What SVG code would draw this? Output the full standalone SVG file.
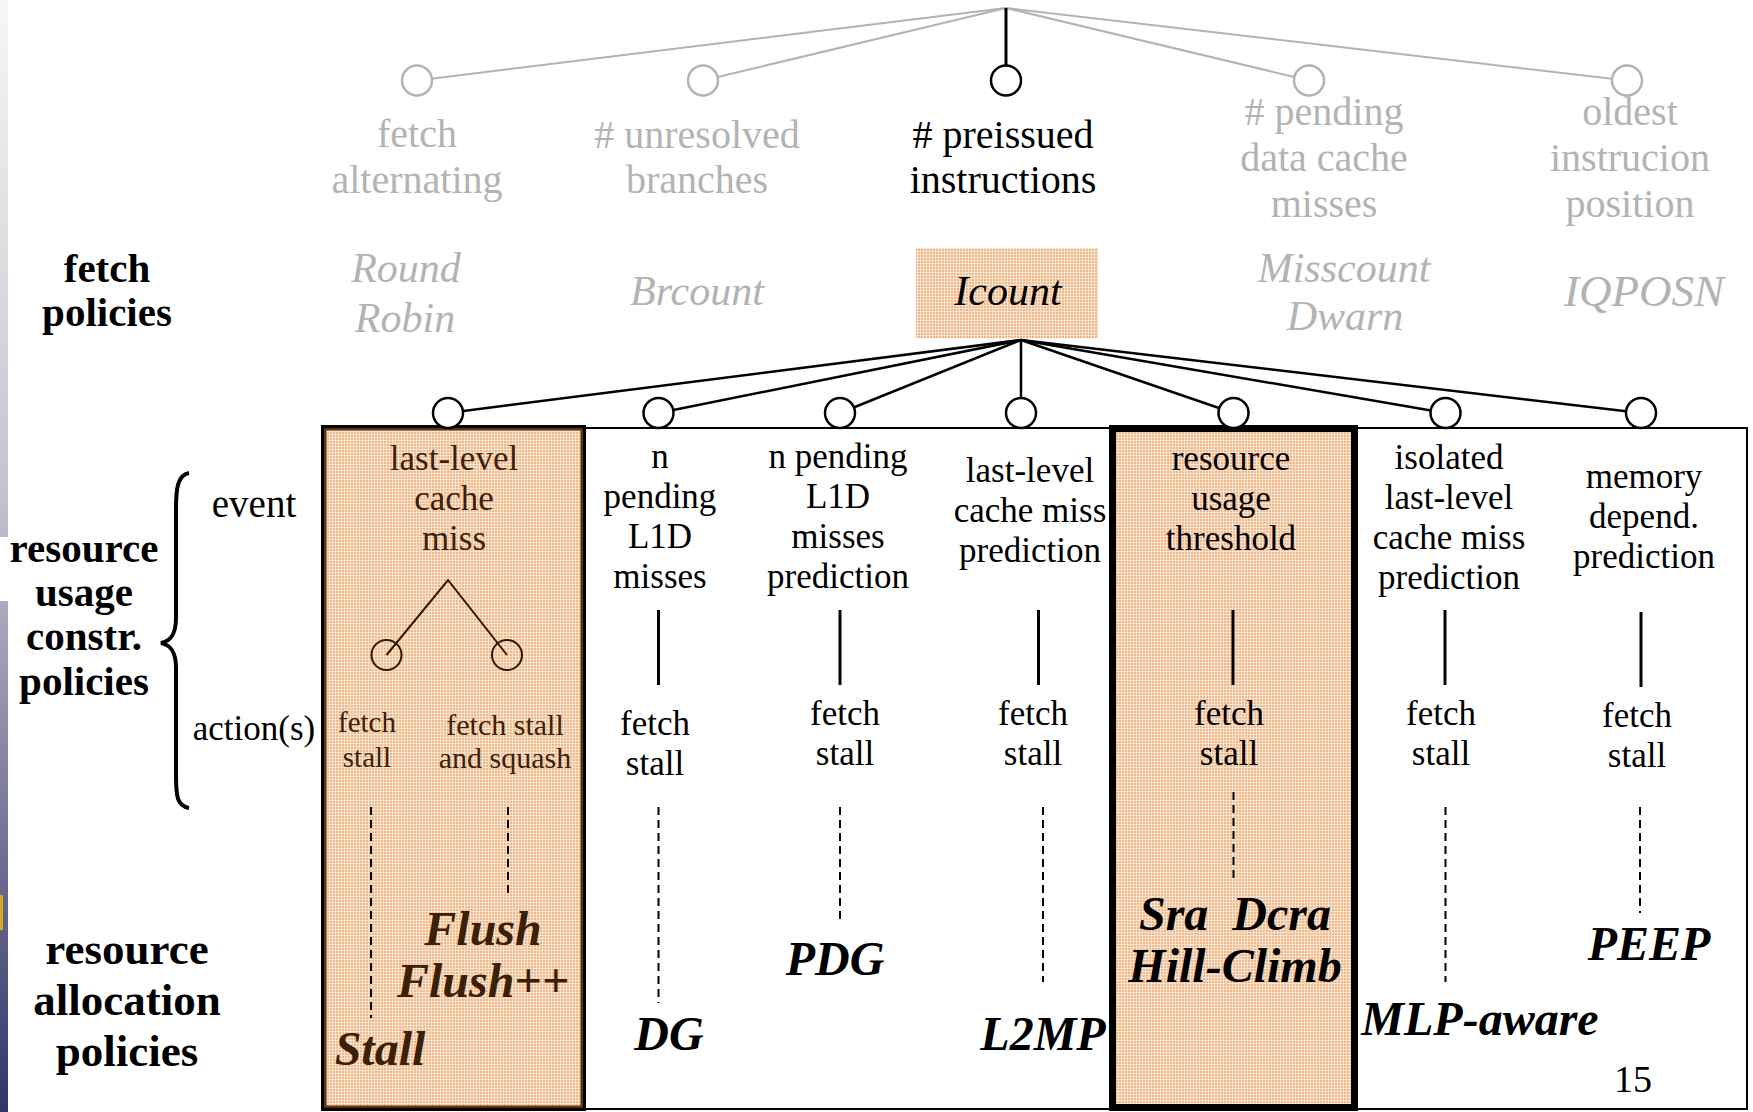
<svg xmlns="http://www.w3.org/2000/svg" width="1753" height="1112" viewBox="0 0 1753 1112">
<defs>
<linearGradient id="strip" x1="0" y1="0" x2="0" y2="1">
<stop offset="0" stop-color="#f7f7f7"/>
<stop offset="0.45" stop-color="#c2c2cc"/>
<stop offset="1" stop-color="#33336a"/>
</linearGradient>
<pattern id="tex" width="3" height="3" patternUnits="userSpaceOnUse">
<rect width="3" height="3" fill="#fbe4ce"/>
<rect width="2" height="2" fill="#f0b78a"/>
</pattern>
</defs>
<style>
text { font-family: "Liberation Serif", "Times New Roman", serif; text-anchor: middle; }
.gray { fill: #b3b3b3; }
.top { font-size: 40px; }
.pol { font-size: 42px; font-style: italic; }
.hdr { font-size: 41px; font-weight: bold; fill: #000; }
.big { font-size: 45px; font-weight: bold; fill: #000; }
.side { font-size: 39px; fill: #000; }
.col { font-size: 35px; fill: #000; }
.brn { fill: #3a220b; }
.alloc { font-size: 48px; font-weight: bold; font-style: italic; fill: #000; }
.gl { stroke: #b3b3b3; stroke-width: 2; fill: none; }
.bl { stroke: #000; stroke-width: 2.5; fill: none; }
.gn { fill: #fff; stroke: #b3b3b3; stroke-width: 2.5; }
.bn { fill: #fff; stroke: #000; stroke-width: 2.5; }
.vl { stroke: #000; stroke-width: 3; }
.dash { stroke: #000; stroke-width: 2; stroke-dasharray: 8 5; fill: none; }
</style>

<rect width="1753" height="1112" fill="#fff"/>
<g id="slide-edge">
<rect x="0" y="0" width="8" height="1112" fill="url(#strip)"/>
<rect x="0" y="537" width="8" height="64" fill="#fff"/>
<rect x="0" y="895" width="3" height="35" fill="#d2a928"/>
</g>

<g id="frame">
<rect x="323" y="428" width="1424" height="681" fill="#fff" stroke="#000" stroke-width="2"/>
</g>
<g id="col1-box">
<rect x="324.5" y="428.5" width="258" height="679" fill="url(#tex)" stroke="#5a3312" stroke-width="4"/>
<rect x="322.5" y="426.5" width="262" height="683" fill="none" stroke="#000" stroke-width="3"/>
</g>
<g id="col5-box">
<rect x="1112.5" y="428.5" width="242" height="679" fill="url(#tex)" stroke="#000" stroke-width="7"/>
</g>
<g id="icount-box">
<rect x="916" y="248" width="182" height="90" fill="url(#tex)"/>
</g>

<g id="connectors">
<line class="gl" x1="1006" y1="8" x2="417" y2="80.5"/>
<line class="gl" x1="1006" y1="8" x2="703" y2="80.5"/>
<line class="gl" x1="1006" y1="8" x2="1309" y2="80.5"/>
<line class="gl" x1="1006" y1="8" x2="1627" y2="80.5"/>
<line x1="1006" y1="8" x2="1006" y2="80.5" stroke="#000" stroke-width="3"/>
<line class="bl" x1="1021" y1="340" x2="448" y2="413"/>
<line class="bl" x1="1021" y1="340" x2="658.5" y2="413"/>
<line class="bl" x1="1021" y1="340" x2="840" y2="413"/>
<line class="bl" x1="1021" y1="340" x2="1021" y2="413"/>
<line class="bl" x1="1021" y1="340" x2="1233.5" y2="413"/>
<line class="bl" x1="1021" y1="340" x2="1445.5" y2="413"/>
<line class="bl" x1="1021" y1="340" x2="1641" y2="413"/>
<polyline points="386.5,655 448,580 507,655" stroke="#2a1706" stroke-width="2" fill="none"/>
<line class="vl" x1="658.5" y1="610" x2="658.5" y2="685"/>
<line class="vl" x1="840" y1="610" x2="840" y2="685"/>
<line class="vl" x1="1038.5" y1="610" x2="1038.5" y2="685"/>
<line class="vl" x1="1233" y1="610" x2="1233" y2="685"/>
<line class="vl" x1="1445" y1="610" x2="1445" y2="685"/>
<line class="vl" x1="1641" y1="612" x2="1641" y2="687"/>
<line class="dash" x1="371" y1="807" x2="371" y2="1018"/>
<line class="dash" x1="508" y1="807" x2="508" y2="897"/>
<line class="dash" x1="658.5" y1="807" x2="658.5" y2="1003"/>
<line class="dash" x1="840" y1="807" x2="840" y2="920"/>
<line class="dash" x1="1043" y1="807" x2="1043" y2="982"/>
<line class="dash" x1="1233.5" y1="792" x2="1233.5" y2="882"/>
<line class="dash" x1="1445.5" y1="807" x2="1445.5" y2="982"/>
<line class="dash" x1="1640" y1="807" x2="1640" y2="913"/>
</g>

<g id="labels-left">
<text class="hdr" x="107" y="282">fetch</text>
<text class="hdr" x="107" y="326">policies</text>
<path d="M189,473 C177,475 176,490 176,510 L176,618 C176,634 171,641 161,643 C171,645 176,652 176,668 L176,775 C176,796 177,806 189,808" fill="none" stroke="#000" stroke-width="4"/>
<text class="hdr" x="84" y="562">resource</text>
<text class="hdr" x="84" y="606">usage</text>
<text class="hdr" x="84" y="650">constr.</text>
<text class="hdr" x="84" y="695">policies</text>
<text class="side" x="254" y="517">event</text>
<text class="side" x="254" y="740" style="font-size:35px">action(s)</text>
<text class="big" x="127" y="964">resource</text>
<text class="big" x="127" y="1015">allocation</text>
<text class="big" x="127" y="1066">policies</text>
</g>

<g id="fp-fetch-alternating">
<circle class="gn" cx="417" cy="80.5" r="15"/>
<text class="top gray" x="417" y="147">fetch</text>
<text class="top gray" x="417" y="193">alternating</text>
<text class="pol gray" x="406" y="282">Round</text>
<text class="pol gray" x="405" y="332">Robin</text>
</g>
<g id="fp-unresolved-branches">
<circle class="gn" cx="703" cy="80.5" r="15"/>
<text class="top gray" x="697" y="148">#  unresolved</text>
<text class="top gray" x="697" y="193">branches</text>
<text class="pol gray" x="697" y="305">Brcount</text>
</g>
<g id="fp-preissued">
<circle class="bn" cx="1006" cy="80.5" r="15" stroke-width="3"/>
<text class="top" x="1003" y="148">#  preissued</text>
<text class="top" x="1003" y="193">instructions</text>
<text class="pol" x="1008" y="305">Icount</text>
</g>
<g id="fp-pending-dcache">
<circle class="gn" cx="1309" cy="80.5" r="15"/>
<text class="top gray" x="1324" y="125">#  pending</text>
<text class="top gray" x="1324" y="171">data cache</text>
<text class="top gray" x="1324" y="217">misses</text>
<text class="pol gray" x="1344" y="282">Misscount</text>
<text class="pol gray" x="1345" y="330">Dwarn</text>
</g>
<g id="fp-oldest">
<circle class="gn" cx="1627" cy="80.5" r="15"/>
<text class="top gray" x="1630" y="125">oldest</text>
<text class="top gray" x="1630" y="171">instrucion</text>
<text class="top gray" x="1630" y="217">position</text>
<text class="pol gray" x="1644" y="306" style="font-size:45px">IQPOSN</text>
</g>

<g id="rc-llc-miss">
<circle class="bn" cx="448" cy="413" r="15"/>
<text class="col brn" x="454" y="470">last-level</text>
<text class="col brn" x="454" y="510">cache</text>
<text class="col brn" x="454" y="550">miss</text>
<circle cx="386.5" cy="655" r="15" fill="none" stroke="#2a1706" stroke-width="2"/>
<circle cx="507" cy="655" r="15" fill="none" stroke="#2a1706" stroke-width="2"/>
<text class="brn" x="367" y="732" font-size="29">fetch</text>
<text class="brn" x="367" y="767" font-size="29">stall</text>
<text class="brn" x="505" y="735" font-size="30">fetch stall</text>
<text class="brn" x="505" y="768" font-size="30">and squash</text>
<text class="alloc" x="483" y="945" style="fill:#3a2005">Flush</text>
<text class="alloc" x="483" y="997" style="fill:#3a2005">Flush++</text>
<text class="alloc" x="380" y="1065" style="fill:#3a2005">Stall</text>
</g>
<g id="rc-n-pending-l1d">
<circle class="bn" cx="658.5" cy="413" r="15"/>
<text class="col" x="660" y="468">n</text>
<text class="col" x="660" y="508">pending</text>
<text class="col" x="660" y="548">L1D</text>
<text class="col" x="660" y="588">misses</text>
<text class="col" x="655" y="735">fetch</text>
<text class="col" x="655" y="775">stall</text>
<text class="alloc" x="669" y="1050">DG</text>
</g>
<g id="rc-n-pending-l1d-pred">
<circle class="bn" cx="840" cy="413" r="15"/>
<text class="col" x="838" y="468">n pending</text>
<text class="col" x="838" y="508">L1D</text>
<text class="col" x="838" y="548">misses</text>
<text class="col" x="838" y="588">prediction</text>
<text class="col" x="845" y="725">fetch</text>
<text class="col" x="845" y="765">stall</text>
<text class="alloc" x="835" y="975">PDG</text>
</g>
<g id="rc-llc-miss-pred">
<circle class="bn" cx="1021" cy="413" r="15"/>
<text class="col" x="1030" y="482">last-level</text>
<text class="col" x="1030" y="522">cache miss</text>
<text class="col" x="1030" y="562">prediction</text>
<text class="col" x="1033" y="725">fetch</text>
<text class="col" x="1033" y="765">stall</text>
<text class="alloc" x="1043" y="1050">L2MP</text>
</g>
<g id="rc-resource-threshold">
<circle class="bn" cx="1233.5" cy="413" r="15"/>
<text class="col" x="1231" y="470">resource</text>
<text class="col" x="1231" y="510">usage</text>
<text class="col" x="1231" y="550">threshold</text>
<text class="col" x="1229" y="725">fetch</text>
<text class="col" x="1229" y="765">stall</text>
<text class="alloc" x="1235" y="930" xml:space="preserve">Sra  Dcra</text>
<text class="alloc" x="1235" y="982">Hill-Climb</text>
</g>
<g id="rc-isolated-llc">
<circle class="bn" cx="1445.5" cy="413" r="15"/>
<text class="col" x="1449" y="469">isolated</text>
<text class="col" x="1449" y="509">last-level</text>
<text class="col" x="1449" y="549">cache miss</text>
<text class="col" x="1449" y="589">prediction</text>
<text class="col" x="1441" y="725">fetch</text>
<text class="col" x="1441" y="765">stall</text>
<text class="alloc" x="1480" y="1035">MLP-aware</text>
</g>
<g id="rc-memory-depend">
<circle class="bn" cx="1641" cy="413" r="15"/>
<text class="col" x="1644" y="488">memory</text>
<text class="col" x="1644" y="528">depend.</text>
<text class="col" x="1644" y="568">prediction</text>
<text class="col" x="1637" y="727">fetch</text>
<text class="col" x="1637" y="767">stall</text>
<text class="alloc" x="1649" y="960">PEEP</text>
</g>
<g id="page-number">
<text x="1633" y="1092" font-size="38" fill="#000">15</text>
</g>
</svg>
